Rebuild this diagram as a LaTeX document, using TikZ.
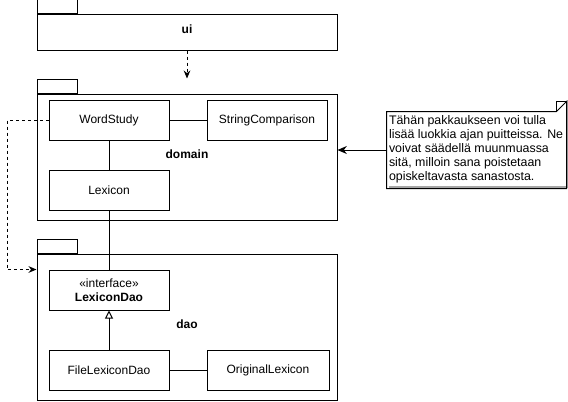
\documentclass[tikz,border=0pt]{standalone}
\usepackage{fontspec}
\setmainfont{Liberation Sans}
\usetikzlibrary{arrows.meta}

\tikzset{
  classbox/.style={draw, minimum width=90pt, minimum height=30pt, inner sep=0pt, align=center},
  pkgbody/.style={draw, minimum width=225pt, inner sep=0pt},
  pkgtab/.style={draw, minimum width=30pt, minimum height=10.5pt, inner sep=0pt, anchor=south west},
  depline/.style={dash pattern=on 2.25pt off 2.25pt, -{Stealth[length=6pt,width=5pt]}},
}

\begin{document}
\begin{tikzpicture}[x=0.75pt,y=0.75pt,yscale=-1,font=\fontsize{9pt}{10.3pt}\selectfont,line width=0.75pt]
  \useasboundingbox (0,0) rectangle (568,401);

  %Package: ui
  \node [pkgbody, minimum height=27pt] (ui) at (187,32) {};
  \node [pkgtab] (uitab) at (ui.north west) {};
  % Text Node
  \node (uilabel) at (187,29) {\bfseries ui};

  %Package: domain
  \node [pkgbody, minimum height=94.5pt] (domain) at (187,157) {};
  \node [pkgtab] (domaintab) at (domain.north west) {};
  \node [classbox] (wordstudy) at (109,120) {WordStudy};
  \node [classbox] (stringcomp) at (267,120) {StringComparison};
  \node [classbox] (lexicon) at (109,190) {Lexicon};
  % Text Node
  \node (domainlabel) at (187,154) {\bfseries domain};

  %Package: dao
  \node [pkgbody, minimum height=109.5pt] (dao) at (187,327) {};
  \node [pkgtab] (daotab) at (dao.north west) {};
  \node [classbox] (lexicondao) at (109,290) {\guillemotleft interface\guillemotright\\\bfseries LexiconDao};
  \node [classbox] (filedao) at (109,370) {FileLexiconDao};
  \node [classbox, minimum width=91.5pt] (original) at (268,370) {OriginalLexicon};
  % Text Node
  \node (daolabel) at (187,324) {\bfseries dao};

  %Note
  \node [minimum width=134.25pt, minimum height=57pt, inner sep=0pt] (note) at (476.5,150) {};
  \draw [gray!70, line width=1.5pt] ([xshift=1.5pt,yshift=-0.8pt]note.south west) -- ([xshift=0.8pt,yshift=-0.8pt]note.south east) -- ([xshift=0.8pt,yshift=-9pt]note.north east);
  \draw (note.north west) -- ([xshift=-7.5pt]note.north east) -- ([yshift=-7.5pt]note.north east) -- (note.south east) -- (note.south west) -- cycle;
  \draw ([xshift=-7.5pt]note.north east) -- ([xshift=-7.5pt,yshift=-7.5pt]note.north east) -- ([yshift=-7.5pt]note.north east);
  % Text Node
  \node [anchor=west, inner sep=0pt, align=left, font=\fontsize{9.3pt}{10.4pt}\selectfont] (notetext) at ([xshift=1.5pt,yshift=-0.5pt]note.west) {T\"ah\"an pakkaukseen voi tulla\\lis\"a\"a luokkia ajan puitteissa. Ne\\voivat s\"a\"adell\"a muunmuassa\\sit\"a, milloin sana poistetaan\\opiskeltavasta sanastosta.};

  %Connectors
  \draw [depline] (ui.south) -- (ui.south |- domaintab.north);
  \draw (wordstudy) -- (stringcomp);
  \draw (wordstudy) -- (lexicon);
  \draw (lexicon.south) -- (lexicondao.north);
  \draw [-{Triangle[open,length=6pt,width=6pt]}] (filedao) -- (lexicondao);
  \draw (filedao) -- (original);
  \draw [depline] (wordstudy.west) -- (7,120) |- (dao.west |- lexicondao.north);
  \draw [-{Stealth[length=7pt,width=6pt]}] (note.west) -- (note.west -| domain.east);
\end{tikzpicture}
\end{document}
